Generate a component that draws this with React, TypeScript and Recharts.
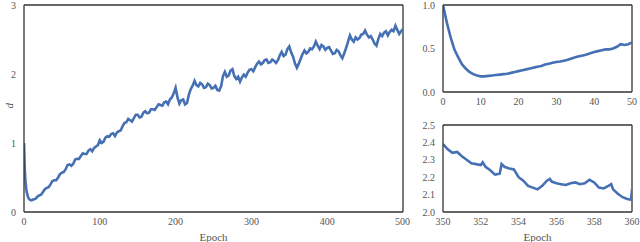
import * as React from 'react';
import { LineChart, Line, XAxis, YAxis, ReferenceLine } from 'recharts';

// full training run
const mainEpochs = [0, 1, 2, 3, 4, 5, 6, 7, 8, 10, 12,
    15, 17.5, 20, 22.5, 25, 27.5, 30, 32.5, 35, 37.5, 40, 42.5, 45, 47.5,
    50, 52.5, 55, 57.5, 60, 62.5, 65, 67.5, 70, 72.5, 75, 77.5, 80, 82.5, 85, 87.5, 90, 92.5, 95, 97.5,
    100, 102.5, 105, 107.5, 110, 112.5, 115, 117.5, 120, 122.5, 125, 127.5, 130, 132.5, 135, 137.5, 140, 142.5, 145, 147.5,
    150, 152.5, 155, 157.5, 160, 162.5, 165, 167.5, 170, 172.5, 175, 177.5, 180, 182.5, 185, 187.5, 190, 192.5, 195, 197.5,
    200, 202.5, 205, 207.5, 210, 212.5, 215, 217.5, 220, 222.5, 225, 227.5, 230, 232.5, 235, 237.5, 240, 242.5, 245, 247.5,
    250, 252.5, 255, 257.5, 260, 262.5, 265, 267.5, 270, 272.5, 275, 277.5, 280, 282.5, 285, 287.5, 290, 292.5, 295, 297.5,
    300, 302.5, 305, 307.5, 310, 312.5, 315, 317.5, 320, 322.5, 325, 327.5, 330, 332.5, 335, 337.5, 340, 342.5, 345, 347.5,
    350, 352.5, 355, 357.5, 360, 362.5, 365, 367.5, 370, 372.5, 375, 377.5, 380, 382.5, 385, 387.5, 390, 392.5, 395, 397.5,
    400, 402.5, 405, 407.5, 410, 412.5, 415, 417.5, 420, 422.5, 425, 427.5, 430, 432.5, 435, 437.5, 440, 442.5, 445, 447.5,
    450, 452.5, 455, 457.5, 460, 462.5, 465, 467.5, 470, 472.5, 475, 477.5, 480, 482.5, 485, 487.5, 490, 492.5, 495, 497.5, 500];
const mainD = [1.0, 0.62, 0.44, 0.33, 0.27, 0.23, 0.2, 0.185, 0.175, 0.17, 0.18,
    0.19, 0.22, 0.24, 0.25, 0.29, 0.33, 0.35, 0.36, 0.4, 0.45, 0.46, 0.46, 0.5, 0.55,
    0.57, 0.58, 0.62, 0.68, 0.69, 0.67, 0.7, 0.76, 0.77, 0.77, 0.81, 0.85, 0.84, 0.84, 0.89, 0.91, 0.88, 0.93, 0.95, 0.97,
    1.04, 1.0, 1.02, 1.08, 1.1, 1.09, 1.13, 1.14, 1.1, 1.15, 1.17, 1.18, 1.24, 1.29, 1.3, 1.35, 1.33, 1.31, 1.36, 1.41,
    1.41, 1.37, 1.38, 1.44, 1.46, 1.43, 1.44, 1.49, 1.49, 1.48, 1.52, 1.56, 1.55, 1.54, 1.59, 1.6, 1.56, 1.63, 1.66, 1.72,
    1.8, 1.66, 1.57, 1.62, 1.63, 1.56, 1.58, 1.7, 1.78, 1.83, 1.9, 1.84, 1.82, 1.87, 1.85, 1.8, 1.81, 1.86, 1.84, 1.79,
    1.8, 1.83, 1.77, 1.76, 1.82, 1.97, 2.03, 1.96, 1.98, 2.05, 2.07, 1.97, 1.93, 1.96, 1.89, 1.95, 1.99, 1.96, 2.02, 2.06,
    2.07, 2.04, 2.1, 2.15, 2.18, 2.14, 2.16, 2.2, 2.21, 2.16, 2.17, 2.21, 2.19, 2.16, 2.2, 2.27, 2.32, 2.26, 2.28, 2.36,
    2.4, 2.31, 2.25, 2.15, 2.09, 2.15, 2.22, 2.29, 2.34, 2.3, 2.32, 2.37, 2.36, 2.4, 2.47, 2.41, 2.36, 2.42, 2.4, 2.35,
    2.38, 2.39, 2.34, 2.29, 2.3, 2.35, 2.33, 2.27, 2.23, 2.3, 2.38, 2.47, 2.56, 2.5, 2.47, 2.53, 2.5, 2.52, 2.57, 2.58,
    2.63, 2.57, 2.53, 2.55, 2.5, 2.44, 2.41, 2.51, 2.58, 2.55, 2.6, 2.62, 2.56, 2.61, 2.64, 2.62, 2.7, 2.64, 2.58, 2.62, 2.65];

// first 50 epochs
const earlyEpochs = [0, 1, 2, 3, 4, 5, 6, 7, 8, 9, 10, 11, 12, 13, 14, 15, 16, 17, 18, 19, 20, 21, 22, 23, 24, 25,
    26, 27, 28, 29, 30, 31, 32, 33, 34, 35, 36, 37, 38, 39, 40, 41, 42, 43, 44, 45, 46, 47, 48, 49, 50];
const earlyD = [1.0, 0.8, 0.63, 0.49, 0.4, 0.32, 0.27, 0.23, 0.205, 0.19, 0.18, 0.18, 0.185, 0.19, 0.195, 0.2, 0.205, 0.21, 0.22, 0.23, 0.24, 0.25, 0.26, 0.27, 0.28, 0.29,
    0.3, 0.315, 0.325, 0.335, 0.345, 0.35, 0.36, 0.37, 0.385, 0.4, 0.41, 0.42, 0.43, 0.445, 0.46, 0.47, 0.48, 0.49, 0.49, 0.5, 0.52, 0.55, 0.54, 0.55, 0.57];

// zoom on epochs 350-360
const lateEpochs = [350, 350.25, 350.5, 350.75, 351, 351.25, 351.5, 351.75, 352, 352.1, 352.25, 352.5, 352.75, 353, 353.1, 353.25, 353.5, 353.75,
    354, 354.25, 354.5, 354.75, 355, 355.25, 355.5, 355.65, 355.75, 356, 356.25, 356.5, 356.75, 357, 357.25, 357.5, 357.75,
    358, 358.25, 358.5, 358.75, 358.9, 359, 359.25, 359.5, 359.75, 359.95, 360];
const lateD = [2.39, 2.36, 2.34, 2.345, 2.32, 2.3, 2.28, 2.275, 2.27, 2.285, 2.26, 2.24, 2.215, 2.22, 2.275, 2.26, 2.25, 2.245,
    2.2, 2.18, 2.15, 2.14, 2.13, 2.15, 2.18, 2.19, 2.175, 2.165, 2.16, 2.155, 2.165, 2.17, 2.16, 2.165, 2.185,
    2.17, 2.14, 2.135, 2.15, 2.16, 2.13, 2.105, 2.085, 2.075, 2.07, 2.13];

const mainTicksX = [0, 100, 200, 300, 400, 500];
const mainTicksY = [0, 1, 2, 3];
const earlyTicksX = [0, 10, 20, 30, 40, 50];
const earlyTicksY = [0, 0.5, 1.0];
const lateTicksX = [350, 352, 354, 356, 358, 360];
const lateTicksY = [2.0, 2.1, 2.2, 2.3, 2.4, 2.5];

const mainData = mainEpochs.map((e, i) => ({ epoch: e, d: mainD[i] }));
const earlyData = earlyEpochs.map((e, i) => ({ epoch: e, d: earlyD[i] }));
const lateData = lateEpochs.map((e, i) => ({ epoch: e, d: lateD[i] }));

const FONT = '"Liberation Serif", serif';
const LINE = '#4670b4';
const AXIS = '#333';
const tickStyle = { fill: '#555', fontSize: 10, fontFamily: FONT };
const fmt1 = (v: number) => v.toFixed(1);

function Panel(props: {
    data: Array<{ epoch: number; d: number }>;
    width: number; height: number;
    margin: { top: number; right: number; left: number; bottom: number };
    xDomain: [number, number]; yDomain: [number, number];
    xTicks: number[]; yTicks: number[];
    yWidth: number; xHeight: number;
    yFmt?: (v: number) => string;
    epochLabel?: boolean; dLabel?: boolean;
}) {
    const p = props;
    return (
        <LineChart width={p.width} height={p.height} data={p.data} margin={p.margin} style={{ fontFamily: FONT }}>
            <XAxis dataKey="epoch" type="number" domain={p.xDomain} ticks={p.xTicks} allowDataOverflow
                height={p.xHeight} tickLine={false} tickSize={0} tickMargin={6} tick={tickStyle}
                axisLine={{ stroke: AXIS, strokeWidth: 1.3 }}
                label={p.epochLabel ? { value: 'Epoch', position: 'insideBottom', offset: 1, fill: '#555', fontSize: 11, fontFamily: FONT } : undefined} />
            <YAxis type="number" domain={p.yDomain} ticks={p.yTicks} allowDataOverflow width={p.yWidth}
                tickLine={false} tickSize={0} tickMargin={8} tick={tickStyle} tickFormatter={p.yFmt}
                axisLine={{ stroke: AXIS, strokeWidth: 1.3 }}
                label={p.dLabel ? { value: 'd', angle: -90, position: 'insideLeft', offset: 9, fill: '#555', fontSize: 11, fontFamily: FONT, fontStyle: 'italic' } : undefined} />
            <ReferenceLine y={p.yDomain[1]} stroke={AXIS} strokeWidth={1.3} />
            <ReferenceLine x={p.xDomain[1]} stroke={AXIS} strokeWidth={1.3} />
            <Line isAnimationActive={false} dataKey="d" dot={false} stroke={LINE} strokeWidth={2.6} type="linear" />
        </LineChart>
    );
}

export default function App() {
    return (
        <div style={{ position: 'absolute', left: 0, top: 0, width: 640, height: 242, background: '#fff', fontFamily: FONT }}>
            <div style={{ position: 'absolute', left: 0, top: 0 }}>
                <Panel data={mainData} width={410} height={242} margin={{ top: 5, right: 7, left: 0, bottom: 0 }}
                    xDomain={[0, 500]} yDomain={[0, 3]} xTicks={mainTicksX} yTicks={mainTicksY}
                    yWidth={24} xHeight={30} epochLabel dLabel />
            </div>
            <div style={{ position: 'absolute', left: 410, top: 0 }}>
                <Panel data={earlyData} width={230} height={112} margin={{ top: 5, right: 8, left: 0, bottom: 0 }}
                    xDomain={[0, 50]} yDomain={[0, 1]} xTicks={earlyTicksX} yTicks={earlyTicksY}
                    yWidth={33} xHeight={20} yFmt={fmt1} />
            </div>
            <div style={{ position: 'absolute', left: 410, top: 115 }}>
                <Panel data={lateData} width={230} height={127} margin={{ top: 10, right: 8, left: 0, bottom: 0 }}
                    xDomain={[350, 360]} yDomain={[2.0, 2.5]} xTicks={lateTicksX} yTicks={lateTicksY}
                    yWidth={33} xHeight={30} yFmt={fmt1} epochLabel />
            </div>
        </div>
    );
}
